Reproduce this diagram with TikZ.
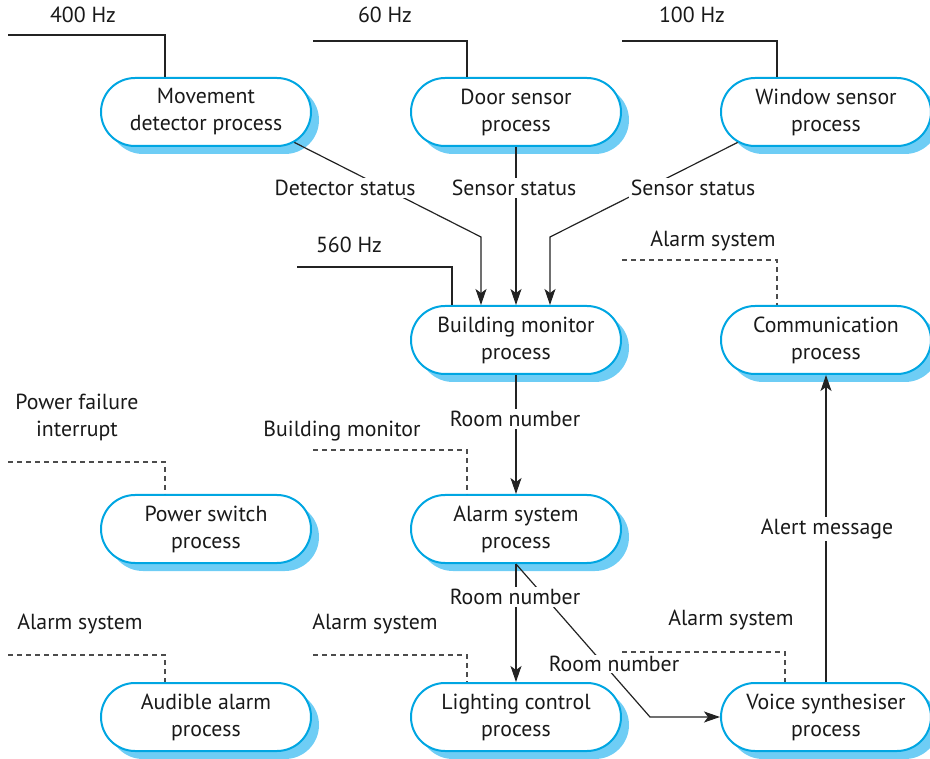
\documentclass[tikz,border=0pt]{standalone}
\usepackage{fontspec}
\setmainfont{PT Sans}
\usetikzlibrary{shapes.misc,shadows,arrows.meta,calc}
\definecolor{boxblue}{RGB}{0,166,226}
\definecolor{shadowblue}{RGB}{110,205,245}
\definecolor{linegray}{RGB}{35,35,35}
\begin{document}
\begin{tikzpicture}[x=1pt,y=-1pt,
  proc/.style={rounded rectangle, draw=boxblue, line width=2pt, fill=white,
    minimum width=210pt, minimum height=68pt, align=center,
    font=\fontsize{21.8}{27}\selectfont, inner sep=0pt, text=black!90,
    drop shadow={shadow xshift=8pt, shadow yshift=-8pt, fill=shadowblue, opacity=1}},
  lbl/.style={font=\fontsize{21.8}{27}\selectfont, align=center, inner sep=2pt, text=black!90},
  wlbl/.style={lbl, fill=white},
  conn/.style={draw=linegray, line width=1.2pt},
  dconn/.style={conn, draw=black!70, dash pattern=on 5pt off 4pt},
  arr/.style={conn, -{Stealth[length=16pt,width=11pt,inset=4pt]}},
]
\useasboundingbox (0,0) rectangle (930,759);

% process nodes
\node[proc] (mov)   at (206,112) {Movement\\detector process};
\node[proc] (door)  at (516,112) {Door sensor\\process};
\node[proc] (win)   at (826,112) {Window sensor\\process};
\node[proc] (bm)    at (516,340) {Building monitor\\process};
\node[proc] (comm)  at (826,340) {Communication\\process};
\node[proc] (pow)   at (206,529) {Power switch\\process};
\node[proc] (alarm) at (516,529) {Alarm system\\process};
\node[proc] (aud)   at (206,717) {Audible alarm\\process};
\node[proc] (light) at (516,717) {Lighting control\\process};
\node[proc] (voice) at (826,717) {Voice synthesiser\\process};

% periodic / event inputs
\coordinate (hz1) at (8,35);
\coordinate (hz2) at (313,41);
\coordinate (hz3) at (622,41);
\coordinate (hz4) at (297,267);
\coordinate (ev1) at (622,260);
\coordinate (ev2) at (313,450);
\coordinate (ev3) at (8,462);
\coordinate (ev4) at (8,655);
\coordinate (ev5) at (313,655);
\coordinate (ev6) at (622,652);

\draw[conn] (hz1) -| (mov.north -| 165,0);
\draw[conn] (hz2) -| (door.north -| 467,0);
\draw[conn] (hz3) -| (win.north -| 777,0);
\draw[conn] (hz4) -| (bm.north -| 452,0);
\draw[dconn] (ev1) -| (comm.north -| 777,0);
\draw[dconn] (ev2) -| (alarm.north -| 467,0);
\draw[dconn] (ev3) -| (pow.north -| 165,0);
\draw[dconn] (ev4) -| (aud.north -| 165,0);
\draw[dconn] (ev5) -| (light.north -| 467,0);
\draw[dconn] (ev6) -| (voice.north -| 785,0);

\node[lbl] (l400) at (83,15) {400 Hz};
\node[lbl] (l60)  at (385,15) {60 Hz};
\node[lbl] (l100) at (692,15) {100 Hz};
\node[lbl] (l560) at (349,245) {560 Hz};
\node[lbl] (la1) at (713,241) {Alarm system};
\node[lbl] (lpf) at (77,417) {Power failure\\interrupt};
\node[lbl] (lbm) at (342,431) {Building monitor};
\node[lbl] (la2) at (80,624) {Alarm system};
\node[lbl] (la3) at (375,624) {Alarm system};
\node[lbl] (la4) at (731,620) {Alarm system};

% data flows
\draw[arr] (mov.-19) -- (481,237) -- (481,237 |- bm.north);
\draw[arr] (door.south) -- (bm.north);
\draw[arr] (win.199) -- (550,237) -- (550,237 |- bm.north);
\draw[arr] (bm.south) -- (alarm.north);
\draw[arr] (alarm.south) -- (light.north);
\draw[arr] (alarm.south) -- (650,717) -- (voice.west);
\draw[arr] (voice.north) -- (comm.south);

\node[wlbl] (ds)  at (345,188) {Detector status};
\node[wlbl] (ss1) at (514,188) {Sensor status};
\node[wlbl] (ss2) at (693,188) {Sensor status};
\node[wlbl] (rn1) at (515,419) {Room number};
\node[wlbl] (rn2) at (515,597) {Room number};
\node[wlbl, inner sep=1pt] (rn3) at (614,664) {Room number};
\node[wlbl] (am)  at (827,529) {Alert message};
\end{tikzpicture}
\end{document}
